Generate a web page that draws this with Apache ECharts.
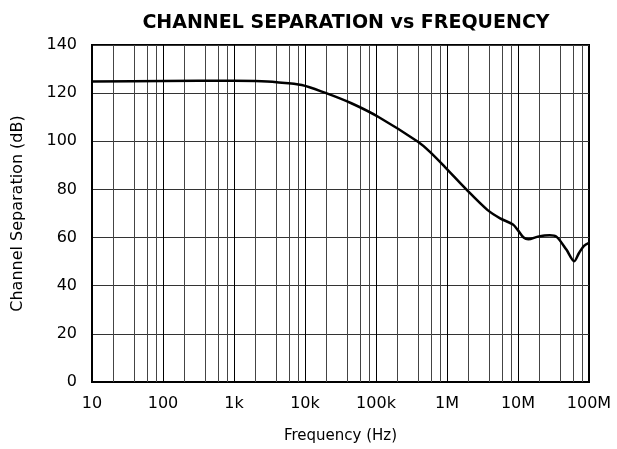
<!DOCTYPE html>
<html>
<head>
<meta charset="utf-8">
<script src="https://cdn.jsdelivr.net/npm/echarts@6/dist/echarts.min.js"></script>
<style>
html,body{margin:0;padding:0;background:#fff;}
#c{width:617px;height:449px;}
</style>
</head>
<body>
<div id="c"></div>
<script>
// Frequency (Hz) and channel separation (dB)
var freq = [10, 100, 1000, 2000, 4000, 9000, 19000, 45000, 110000, 390000, 570000, 930000, 1.9e6, 3.7e6, 5.6e6, 8.5e6, 1.0e7, 1.2e7, 1.4e7, 1.9e7, 2.8e7, 3.5e7, 4.8e7, 6.2e7, 7.2e7, 8.5e7, 1e8];
var sep  = [124.8, 125.0, 125.2, 125.0, 124.5, 123.4, 120.2, 115.8, 110.0, 99.8, 95.7, 89.4, 79.8, 71.5, 68.0, 65.4, 63.0, 60.0, 59.3, 60.4, 61.0, 60.3, 55.0, 50.2, 53.5, 56.6, 57.8];
var xTickLabels = ['10', '100', '1k', '10k', '100k', '1M', '10M', '100M'];
var yTicks = [0, 20, 40, 60, 80, 100, 120, 140];
var minorMultipliers = [2, 4, 6, 8];

var minorGrid = [];
for (var d = 1; d < 8; d++) {
  minorMultipliers.forEach(function (m) { minorGrid.push({ xAxis: m * Math.pow(10, d) }); });
}

var FONT = 'DejaVu Sans, sans-serif';
var chart = echarts.init(document.getElementById('c'), null, { renderer: 'canvas' });
chart.setOption({
  animation: false,
  backgroundColor: '#fff',
  title: {
    text: 'CHANNEL SEPARATION vs FREQUENCY',
    left: 341, top: 9, textAlign: 'center',
    textStyle: { fontFamily: FONT, fontWeight: 'bold', fontSize: 19, color: '#000' }
  },
  grid: { left: 92, right: 28, top: 45, bottom: 67, show: true, borderColor: '#000', borderWidth: 2, backgroundColor: 'transparent' },
  xAxis: {
    type: 'log', logBase: 10, min: 10, max: 1e8,
    name: 'Frequency (Hz)', nameLocation: 'middle', nameGap: 47,
    nameTextStyle: { fontFamily: FONT, fontSize: 15, color: '#000' },
    axisLine: { show: true, lineStyle: { color: '#000', width: 2 } },
    axisTick: { show: false },
    axisLabel: {
      margin: 14, fontFamily: FONT, fontSize: 16, color: '#000',
      formatter: function (v) { var i = Math.round(Math.log10(v)) - 1; return xTickLabels[i]; }
    },
    splitLine: { show: true, lineStyle: { color: '#000', width: 1 } },
    minorTick: { show: false }, minorSplitLine: { show: false }
  },
  yAxis: {
    type: 'value', min: 0, max: 140, interval: 20,
    name: 'Channel Separation (dB)', nameLocation: 'middle', nameGap: 66, nameRotate: 90,
    nameTextStyle: { fontFamily: FONT, fontSize: 16, color: '#000' },
    axisLine: { show: true, lineStyle: { color: '#000', width: 2 } },
    axisTick: { show: false },
    axisLabel: { margin: 15, fontFamily: FONT, fontSize: 16, color: '#000',
      formatter: function (v) { return yTicks.indexOf(v) >= 0 ? String(v) : ''; } },
    splitLine: { show: true, lineStyle: { color: '#333', width: 1 } }
  },
  series: [{
    type: 'line',
    data: freq.map(function (f, i) { return [f, sep[i]]; }),
    showSymbol: false, smooth: 0.3,
    lineStyle: { color: '#000', width: 2.5 },
    z: 5,
    markLine: {
      silent: true, symbol: 'none', label: { show: false },
      lineStyle: { color: '#444', width: 1, type: 'solid' },
      data: minorGrid, z: 1
    }
  }]
});
</script>
</body>
</html>
